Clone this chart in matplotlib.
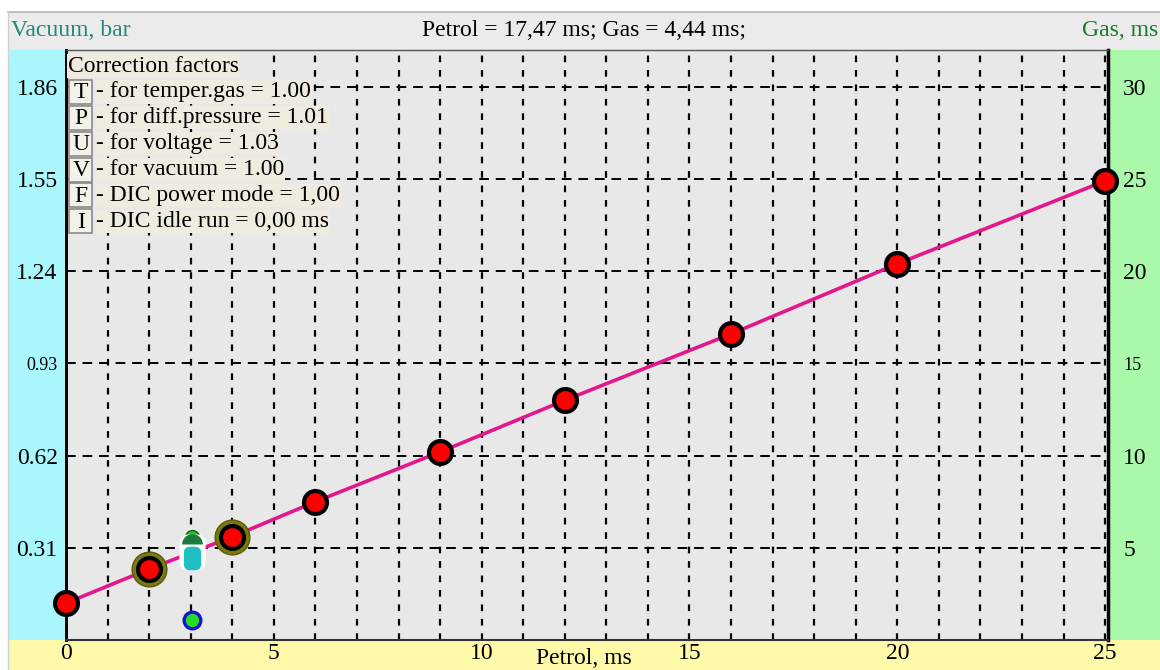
import matplotlib
matplotlib.use("Agg")
import matplotlib.pyplot as plt
from matplotlib.patches import Rectangle, FancyBboxPatch

plt.rcParams['font.family'] = ['Liberation Serif', 'DejaVu Serif']

# map points: petrol time -> gas time (ms)
petrol_pts = [0, 2, 4, 6, 9, 12, 16, 20, 25]
gas_pts = [2.0, 3.85, 5.6, 7.5, 10.2, 13.0, 16.6, 20.4, 24.9]
highlight_petrol = [2, 4]
highlight_gas = [3.85, 5.6]

# current working point
cur_petrol = 3.03
cur_gas = 4.6
cur_gas_prev = 5.6
cur_vac_gas = 1.08

x_ticks = [0, 5, 10, 15, 20, 25]
gas_ticks = [5, 10, 15, 20, 25, 30]
vac_ticks = [0.31, 0.62, 0.93, 1.24, 1.55, 1.86]
small_gas_label = 15
small_vac_label = 0.93
vac_per_gas = 0.062

header = "Petrol = 17,47 ms; Gas = 4,44 ms;"
legend_title = "Correction factors"
legend_keys = ["T", "P", "U", "V", "F", "I"]
legend_texts = ["- for temper.gas = 1.00", "- for diff.pressure = 1.01",
                "- for voltage = 1.03", "- for vacuum = 1.00",
                "- DIC power mode = 1,00", "- DIC idle run = 0,00 ms"]

FS = 17
FS_SMALL = 13

W, H = 1160, 670
fig = plt.figure(figsize=(W / 100, H / 100), dpi=100, facecolor='white')


def fx(px):
    return px / W


def fy(py):
    return 1 - py / H


def panel(x0, y0, x1, y1, color, **kw):
    fig.add_artist(Rectangle((fx(x0), fy(y1)), fx(x1 - x0), (y1 - y0) / H,
                             transform=fig.transFigure, facecolor=color,
                             edgecolor='none', zorder=0, **kw))


# background panels
panel(8, 12, 1160, 50, '#ebebeb')
panel(8, 50, 66, 640, '#aaf6fd')
panel(1108, 50, 1160, 640, '#aaf8aa')
panel(8, 640, 1160, 670, '#fff9aa')
fig.add_artist(plt.Line2D([fx(8), 1], [fy(12), fy(12)], transform=fig.transFigure,
                          color='#b8b8b8', lw=1.2))
fig.add_artist(plt.Line2D([fx(8), fx(8)], [fy(12), 0], transform=fig.transFigure,
                          color='#d0d0d0', lw=1.0))

ax = fig.add_axes([fx(66), fy(640), fx(1108 - 66), 590 / H], facecolor='#e8e8e8')
ax.set_xlim(0, 25.07)
ax.set_ylim(0, 32)

ax.set_xticks(x_ticks)
ax.set_xticks(range(0, 26), minor=True)
ax.set_xticklabels([str(t) for t in x_ticks], fontsize=FS)
ax.set_yticks(gas_ticks)
ax.set_yticklabels([str(t) for t in gas_ticks], fontsize=FS)
ax.yaxis.tick_right()
ax.tick_params(axis='x', which='both', length=0, pad=2)
ax.tick_params(axis='y', length=0, pad=11)
for lab in ax.get_yticklabels():
    if lab.get_text() == str(small_gas_label):
        lab.set_fontsize(FS_SMALL)

ax.grid(True, axis='x', which='both', color='black', lw=1.6, ls=(0, (3, 3.5)))
ax.grid(True, axis='y', which='major', color='black', lw=1.4, ls=(0, (5, 3.5)))
ax.set_axisbelow(True)

sec = ax.secondary_yaxis('left', functions=(lambda g: g * vac_per_gas,
                                            lambda v: v / vac_per_gas))
sec.set_yticks(vac_ticks, labels=["%.2f" % v for v in vac_ticks])
sec.tick_params(length=0, pad=6, labelsize=FS)
for lab in sec.get_yticklabels():
    if lab.get_text() == "%.2f" % small_vac_label:
        lab.set_fontsize(FS_SMALL)
sec.spines['left'].set_linewidth(2)

for side, lw, c in [('left', 2, 'black'), ('right', 2.5, 'black'),
                    ('bottom', 1.5, '#333333'), ('top', 1.0, '#555555')]:
    ax.spines[side].set_linewidth(lw)
    ax.spines[side].set_color(c)

# map line and points
ax.plot(petrol_pts, gas_pts, color='#e4168c', lw=2.6, zorder=3, clip_on=False)
ax.plot(highlight_petrol, highlight_gas, 'o', ms=25, color='#7a7a12',
        mec='#5c5c00', mew=1, zorder=4, clip_on=False)
ax.plot(petrol_pts, gas_pts, 'o', ms=16.5, mfc='#ff0000', mec='black', mew=3,
        zorder=5, clip_on=False)

# current point marker
box = FancyBboxPatch((-1, -1.4), 2, 2.8,
                     boxstyle='round,pad=0,rounding_size=0.7').get_path()
ax.plot(cur_petrol, cur_gas_prev, 'o', ms=10, fillstyle='top', mfc='#20c820',
        mfcalt='none', mec='#106010', mew=1, zorder=6)
ax.plot(cur_petrol, cur_gas + 0.15, marker=box, ms=25, mfc='white', mec='white',
        zorder=7)
ax.plot(cur_petrol, cur_gas - 0.15, marker=box, ms=16, mfc='#20c0c0', mec='#20c0c0',
        zorder=8)
ax.plot(cur_petrol, cur_gas + 0.6, 'o', ms=15, fillstyle='top', mfc='#1e7a3a',
        mfcalt='none', mec='none', zorder=9)
ax.plot(cur_petrol, cur_vac_gas, 'o', ms=12, mfc='#22dd22', mec='#1414d0', mew=2.4,
        zorder=6)

# header texts
fig.text(fx(11), fy(31), "Vacuum, bar", color='#23877f', fontsize=FS, va='center')
fig.text(fx(584), fy(31), header, color='black', fontsize=FS, va='center',
         ha='center')
fig.text(fx(1158), fy(31), "Gas, ms", color='#1b7a28', fontsize=FS, va='center',
         ha='right')
fig.text(fx(584), fy(658), "Petrol, ms", color='black', fontsize=FS, va='center',
         ha='center')

# correction factor legend
row_y0, row_dy = 66, 25.9
fig.text(fx(68), fy(row_y0), legend_title, fontsize=FS, va='center', ha='left',
         bbox=dict(boxstyle='square,pad=0.05', fc='#efebdf', ec='none'))
for i, (k, t) in enumerate(zip(legend_keys, legend_texts)):
    yc = row_y0 + row_dy * (i + 1)
    fig.text(fx(96), fy(yc), t, fontsize=FS, va='center', ha='left',
             bbox=dict(boxstyle='square,pad=0.05', fc='#efebdf', ec='none'))
    fig.add_artist(Rectangle((fx(69), fy(yc + 12)), fx(23), 24 / H,
                             transform=fig.transFigure, fc='#f4f1e8',
                             ec='#8a8a8a', lw=1.2, zorder=5))
    fig.text(fx(81), fy(yc + 1), k, fontsize=FS, va='center', ha='center',
             zorder=6)

fig.savefig('out.png', dpi=100, facecolor=fig.get_facecolor())
